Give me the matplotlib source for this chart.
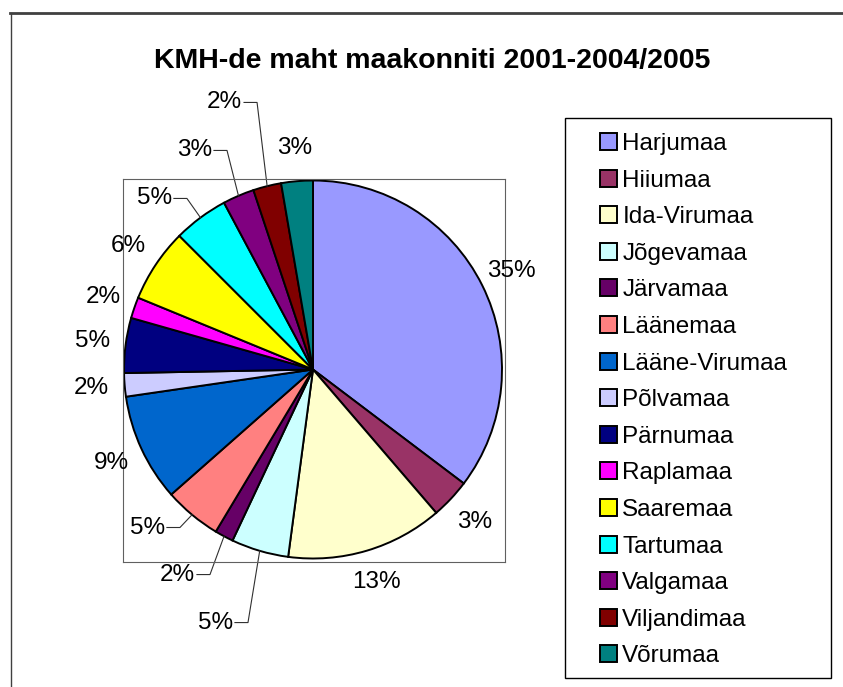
import numpy as np
import matplotlib
matplotlib.use("Agg")
from matplotlib import pyplot as plt
from matplotlib.lines import Line2D
from matplotlib.patches import Rectangle

plt.rcParams['font.family'] = ['Liberation Sans', 'DejaVu Sans']

# data
counties = ["Harjumaa", "Hiiumaa", "Ida-Virumaa", "Jõgevamaa", "Järvamaa", "Läänemaa",
            "Lääne-Virumaa", "Põlvamaa", "Pärnumaa", "Raplamaa", "Saaremaa", "Tartumaa",
            "Valgamaa", "Viljandimaa", "Võrumaa"]
shares = [35.3, 3.4, 13.4, 4.9, 1.6, 4.9, 9.2, 2.0, 4.7, 1.8, 6.3, 4.7, 2.7, 2.4, 2.7]
colors = ["#9999FF", "#993366", "#FFFFCC", "#CCFFFF", "#660066", "#FF8080", "#0066CC",
          "#CCCCFF", "#000080", "#FF00FF", "#FFFF00", "#00FFFF", "#800080", "#800000",
          "#008080"]
title = "KMH-de maht maakonniti 2001-2004/2005"

# labels that sit away from the pie with a leader line (elbow point, pie radius units)
elbows = {"Jõgevamaa": (-0.344, -1.339), "Järvamaa": (-0.545, -1.085),
          "Läänemaa": (-0.704, -0.836), "Tartumaa": (-0.667, 0.905),
          "Valgamaa": (-0.455, 1.159), "Viljandimaa": (-0.296, 1.413)}

W, H = 843, 687
fig = plt.figure(figsize=(W / 100, H / 100), dpi=100)

# plot area box in pixels, pie centre and radius
left, top, right, bottom = 123, 179, 505, 562
cx, cy, R = 313, 369.5, 189
ax = fig.add_axes([left / W, 1 - bottom / H, (right - left) / W, (bottom - top) / H])

wedges, _ = ax.pie(shares, colors=colors, startangle=90, counterclock=False,
                   wedgeprops=dict(edgecolor="black", linewidth=1.4))
ax.set_aspect("auto")
ax.set_xlim((left - cx) / R, (right - cx) / R)
ax.set_ylim((cy - bottom) / R, (cy - top) / R)
ax.set_frame_on(True)
ax.set_xticks([])
ax.set_yticks([])
for s in ax.spines.values():
    s.set_color("#606060")
    s.set_linewidth(0.8)

total = sum(shares)
for name, w, v in zip(counties, wedges, shares):
    mid = np.deg2rad((w.theta1 + w.theta2) / 2)
    txt = f"{v / total * 100:.0f}%"
    if name in elbows:
        ex, ey = elbows[name]
        ax.plot([ex - 0.069, ex, np.cos(mid)], [ey, ey, np.sin(mid)],
                color="#303030", lw=0.8, clip_on=False)
        ax.text(ex - 0.08, ey, txt, ha="right", va="center", fontsize=17.5)
    else:
        ax.text(1.175 * np.cos(mid), 1.175 * np.sin(mid), txt,
                ha="center", va="center", fontsize=17.5)

fig.text(432 / W, 1 - 61 / H, title, ha="center", va="center",
         fontsize=20.5, fontweight="bold")

ax.legend(wedges, counties, loc="upper left", bbox_to_anchor=(600 / W, 1 - 133 / H),
          bbox_transform=fig.transFigure, frameon=False, fontsize=17.5,
          handlelength=0.7, handleheight=0.7, handletextpad=0.22,
          labelspacing=0.6, borderpad=0, borderaxespad=0)
fig.add_artist(Rectangle((565 / W, 1 - 678 / H), 266 / W, 560 / H,
                         transform=fig.transFigure, fill=False,
                         edgecolor="black", lw=1))

# outer chart border (cut off at right and bottom)
fig.add_artist(Line2D([10 / W, 1], [1 - 13 / H, 1 - 13 / H], color="#404040", lw=2))
fig.add_artist(Line2D([10.5 / W, 10.5 / W], [0, 1 - 13 / H], color="#404040", lw=1))

fig.savefig("out.png", dpi=100)
